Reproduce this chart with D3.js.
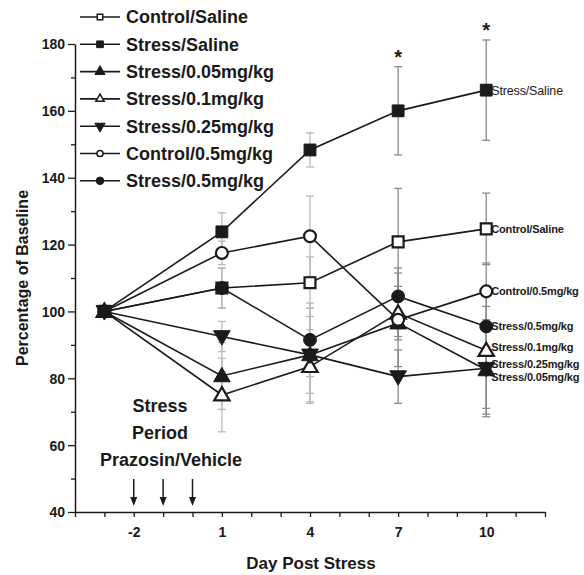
<!DOCTYPE html>
<html>
<head>
<meta charset="utf-8">
<script src="https://cdn.jsdelivr.net/npm/d3@7"></script>
<style>
  body { margin: 0; background: #fff; }
  svg { display: block; }
  text { font-family: "Liberation Sans", Arial, Helvetica, sans-serif; fill: #1a1a1a; }
</style>
</head>
<body>
<svg id="chart" width="584" height="575"></svg>
<script>
// ---- data ----
const days = [-3, 1, 4, 7, 10];
const xTickLabels = [-2, 1, 4, 7, 10];
const yTickLabels = [40, 60, 80, 100, 120, 140, 160, 180];
const arrowDays = [-2, -1, 0];
const starDays = [7, 10];

const seriesNames = ["Control/Saline", "Stress/Saline", "Stress/0.05mg/kg", "Stress/0.1mg/kg",
                     "Stress/0.25mg/kg", "Control/0.5mg/kg", "Stress/0.5mg/kg"];
const controlSaline = [100, 107, 108.6, 120.8, 124.7];
const stressSaline  = [100, 123.8, 148.3, 160, 166.2];
const stress005     = [100, 80.7, 87, 96.5, 82.5];
const stress01      = [100, 75, 83.5, 99.5, 88.3];
const stress025     = [100, 92.5, 87, 80.5, 83];
const control05     = [100, 117.5, 122.5, 97.5, 106];
const stress05      = [100, 107, 91.5, 104.5, 95.5];

const semControlSaline = [0, 6, 7.7, 16, 10.7];
const semStressSaline  = [0, 5.7, 5.1, 13.2, 15];
const semStress005     = [0, 10, 14, 4, 14];
const semStress01      = [0, 11, 11, 8, 19];
const semStress025     = [0, 4.5, 11.5, 8, 12];
const semControl05     = [0, 3.5, 12, 14, 8.5];
const semStress05      = [0, 6, 11, 8.5, 6];

const endLabels = ["Control/Saline", "Stress/Saline", "Stress/0.05mg/kg", "Stress/0.1mg/kg",
                   "Stress/0.25mg/kg", "Control/0.5mg/kg", "Stress/0.5mg/kg"];
// ---- end data ----

const values = [controlSaline, stressSaline, stress005, stress01, stress025, control05, stress05];
const sems = [semControlSaline, semStressSaline, semStress005, semStress01, semStress025, semControl05, semStress05];
const shapes = [
  {type: d3.symbolSquare, fill: false, rot: 0},
  {type: d3.symbolSquare, fill: true, rot: 0},
  {type: d3.symbolTriangle, fill: true, rot: 0},
  {type: d3.symbolTriangle, fill: false, rot: 0},
  {type: d3.symbolTriangle, fill: true, rot: 180},
  {type: d3.symbolCircle, fill: false, rot: 0},
  {type: d3.symbolCircle, fill: true, rot: 0}
];
const endLabelDy = [0, 0, 7, -3, -4, 0, 0];

const svg = d3.select("#chart");
const x = d3.scaleLinear().domain([-4, 12]).range([75, 545]);
const y = d3.scaleLinear().domain([40, 180]).range([512, 44]);
const ink = "#1a1a1a";

// axes
const yAxis = d3.axisLeft(y).tickValues(d3.range(40, 181, 10)).tickSize(0).tickFormat("");
const gy = svg.append("g").attr("transform", `translate(${x(-4)},0)`).call(yAxis);
gy.select(".domain").attr("stroke", ink).attr("stroke-width", 1.5);
gy.selectAll(".tick").append("line")
  .attr("x1", d => (d % 20 === 0 ? -7 : -4)).attr("x2", 0)
  .attr("stroke", ink).attr("stroke-width", 1.3);
gy.selectAll(".tick").filter(d => yTickLabels.includes(d)).append("text")
  .attr("x", -10).attr("dy", "0.35em").attr("text-anchor", "end")
  .style("font-size", "14px").style("font-weight", "bold").attr("fill", ink)
  .text(d => d);

const xAxis = d3.axisBottom(x).tickValues(d3.range(-4, 13, 1)).tickSize(0).tickFormat("");
const gx = svg.append("g").attr("transform", `translate(0,${y(40)})`).call(xAxis);
gx.select(".domain").attr("stroke", ink).attr("stroke-width", 1.5);
gx.selectAll(".tick").append("line").attr("y1", 0).attr("y2", 5)
  .attr("stroke", ink).attr("stroke-width", 1.3);
gx.selectAll(".tick").filter(d => xTickLabels.includes(d)).append("text")
  .attr("y", 25).attr("text-anchor", "middle")
  .style("font-size", "14px").style("font-weight", "bold").attr("fill", ink)
  .text(d => d);

// axis titles
svg.append("text").attr("x", 311).attr("y", 569).attr("text-anchor", "middle")
  .style("font-size", "17px").style("font-weight", "bold").text("Day Post Stress");
svg.append("text").attr("transform", `translate(28,278) rotate(-90)`).attr("text-anchor", "middle")
  .style("font-size", "16px").style("font-weight", "bold").text("Percentage of Baseline");

// error bars
const errColor = d => (d >= 7 ? "#8a8a8a" : "#b8b8b8");
values.forEach((vals, si) => {
  const g = svg.append("g");
  vals.forEach((v, i) => {
    const s = sems[si][i];
    if (!s) return;
    const cx = x(days[i]);
    const c = errColor(days[i]);
    g.append("line").attr("x1", cx).attr("x2", cx).attr("y1", y(v + s)).attr("y2", y(v - s))
      .attr("stroke", c).attr("stroke-width", 1.3);
    [v + s, v - s].forEach(e => {
      g.append("line").attr("x1", cx - 4).attr("x2", cx + 4).attr("y1", y(e)).attr("y2", y(e))
        .attr("stroke", c).attr("stroke-width", 1.3);
    });
  });
});

// lines
const line = d3.line().x((d, i) => x(days[i])).y(d => y(d));
values.forEach(vals => {
  svg.append("path").attr("d", line(vals)).attr("fill", "none")
    .attr("stroke", ink).attr("stroke-width", 1.6);
});

// markers
function drawMarker(g, shape, cx, cy, size, sw) {
  g.append("path")
    .attr("d", d3.symbol().type(shape.type).size(size)())
    .attr("transform", `translate(${cx},${cy}) rotate(${shape.rot})`)
    .attr("fill", shape.fill ? ink : "#fff")
    .attr("stroke", ink).attr("stroke-width", sw);
}
values.forEach((vals, si) => {
  const g = svg.append("g");
  const sh = shapes[si];
  const size = sh.type === d3.symbolSquare ? 140 : (sh.type === d3.symbolCircle ? 130 : 120);
  vals.forEach((v, i) => {
    drawMarker(g, sh, x(days[i]), y(v) + (sh.type === d3.symbolTriangle ? (sh.rot ? -1 : 1) : 0),
               sh.fill ? size : size * 0.85, sh.fill ? 1 : 2.2);
  });
});

// end labels
values.forEach((vals, si) => {
  const last = vals[vals.length - 1];
  svg.append("text").attr("x", x(10) + 5).attr("y", y(last) + endLabelDy[si]).attr("dy", "0.35em")
    .style("font-size", si === 1 ? "12.5px" : "11px").style("font-weight", si === 1 ? "normal" : "bold")
    .style("letter-spacing", "-0.15px")
    .text(endLabels[si]);
});

// stars
starDays.forEach(d => {
  const i = days.indexOf(d);
  svg.append("text").attr("x", x(d)).attr("y", y(stressSaline[i] + semStressSaline[i]) - 3)
    .attr("text-anchor", "middle").style("font-size", "20px").style("font-weight", "bold").text("*");
});

// legend
const legend = svg.append("g");
seriesNames.forEach((name, i) => {
  const ly = 17 + i * 27.3;
  legend.append("line").attr("x1", 80).attr("x2", 120).attr("y1", ly).attr("y2", ly)
    .attr("stroke", ink).attr("stroke-width", 1.6);
  const sh = shapes[i];
  drawMarker(legend, sh, 100, ly, sh.fill ? 45 : 30, sh.fill ? 1 : 1.5);
  legend.append("text").attr("x", 126).attr("y", ly).attr("dy", "0.36em")
    .style("font-size", "18px").style("font-weight", "bold").text(name);
});

// annotations
const annFont = "18px";
svg.append("text").attr("x", 160).attr("y", 412).attr("text-anchor", "middle")
  .style("font-size", annFont).style("font-weight", "bold").text("Stress");
svg.append("text").attr("x", 160).attr("y", 439).attr("text-anchor", "middle")
  .style("font-size", annFont).style("font-weight", "bold").text("Period");
svg.append("text").attr("x", 171).attr("y", 466).attr("text-anchor", "middle")
  .style("font-size", annFont).style("font-weight", "bold").text("Prazosin/Vehicle");

arrowDays.forEach(d => {
  const ax = x(d);
  svg.append("line").attr("x1", ax).attr("x2", ax).attr("y1", 479).attr("y2", 500)
    .attr("stroke", ink).attr("stroke-width", 1.5);
  svg.append("path").attr("d", `M${ax - 3.5},497 L${ax + 3.5},497 L${ax},506 Z`).attr("fill", ink);
});
</script>
</body>
</html>
